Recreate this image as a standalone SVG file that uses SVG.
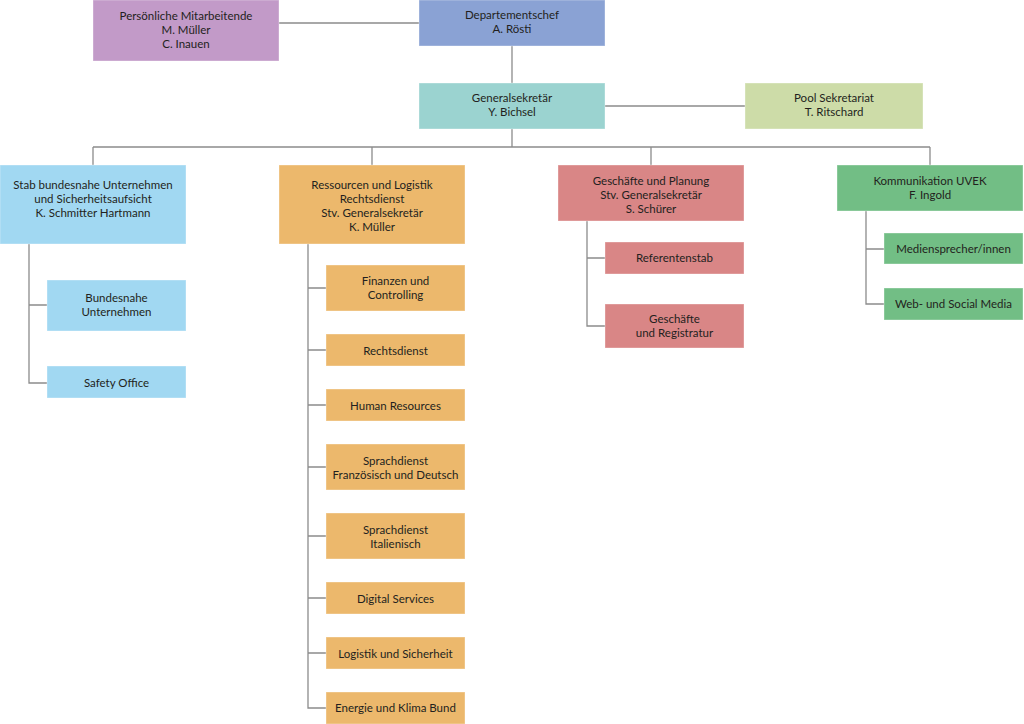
<svg xmlns="http://www.w3.org/2000/svg" width="1024" height="724" viewBox="0 0 1024 724">
<style>
text{font-family:Lato,"Open Sans","Liberation Sans",sans-serif;font-size:11.5px;fill:#231f20;text-anchor:middle}
.c{fill:none;stroke:#8c8c8c;stroke-width:1.3}
rect{stroke:#ffffff;stroke-opacity:0.35;stroke-width:1}
.pu{fill:#c29ac8}.db{fill:#8aa2d4}.te{fill:#9bd3d0}.po{fill:#cddca8}.bl{fill:#a1d8f2}.or{fill:#ecb86c}.rd{fill:#d98686}.gr{fill:#72be85}
</style>
<rect width="1024" height="724" fill="#ffffff" stroke="none"/>
<g id="connectors">
<path class="c" d="M279 23H419M512 46V83M605 106H745M512 129V147M93 147H930M93 147V165M372 147V165M651 147V165M930 147V165"/>
<path class="c" d="M29 244V383H47M29 305H47"/>
<path class="c" d="M308 244V708H326M308 288H326M308 350H326M308 405H326M308 467H326M308 536H326M308 598H326M308 653H326"/>
<path class="c" d="M587 221V326H605M587 258H605"/>
<path class="c" d="M866 211V304H884M866 249H884"/>
</g>
<g id="persoenliche"><rect class="pu" x="93" y="0" width="186" height="61"/><text x="186" y="20">Persönliche Mitarbeitende</text><text x="186" y="34">M. Müller</text><text x="186" y="48">C. Inauen</text></g>
<g id="departementschef"><rect class="db" x="419" y="0" width="186" height="46"/><text x="512" y="19">Departementschef</text><text x="512" y="33">A. Rösti</text></g>
<g id="generalsekretaer"><rect class="te" x="419" y="83" width="186" height="46"/><text x="512" y="102">Generalsekretär</text><text x="512" y="116">Y. Bichsel</text></g>
<g id="pool"><rect class="po" x="745" y="83" width="178" height="46"/><text x="834" y="102">Pool Sekretariat</text><text x="834" y="116">T. Ritschard</text></g>
<g id="stab"><rect class="bl" x="0" y="165" width="186" height="79"/><text x="93" y="189">Stab bundesnahe Unternehmen</text><text x="93" y="203">und Sicherheitsaufsicht</text><text x="93" y="217">K. Schmitter Hartmann</text></g>
<g id="bundesnahe"><rect class="bl" x="47" y="280" width="139" height="51"/><text x="116.5" y="302">Bundesnahe</text><text x="116.5" y="316">Unternehmen</text></g>
<g id="safety"><rect class="bl" x="47" y="366" width="139" height="32"/><text x="116.5" y="387">Safety Office</text></g>
<g id="ressourcen"><rect class="or" x="279" y="165" width="186" height="79"/><text x="372" y="189">Ressourcen und Logistik</text><text x="372" y="203">Rechtsdienst</text><text x="372" y="217">Stv. Generalsekretär</text><text x="372" y="231">K. Müller</text></g>
<g id="finanzen"><rect class="or" x="326" y="265" width="139" height="46"/><text x="395.5" y="285">Finanzen und</text><text x="395.5" y="299">Controlling</text></g>
<g id="rechtsdienst"><rect class="or" x="326" y="334" width="139" height="32"/><text x="395.5" y="355">Rechtsdienst</text></g>
<g id="hr"><rect class="or" x="326" y="389" width="139" height="32"/><text x="395.5" y="410">Human Resources</text></g>
<g id="sprach-fd"><rect class="or" x="326" y="444" width="139" height="46"/><text x="395.5" y="465">Sprachdienst</text><text x="395.5" y="479">Französisch und Deutsch</text></g>
<g id="sprach-it"><rect class="or" x="326" y="513" width="139" height="46"/><text x="395.5" y="534">Sprachdienst</text><text x="395.5" y="548">Italienisch</text></g>
<g id="digital"><rect class="or" x="326" y="582" width="139" height="32"/><text x="395.5" y="603">Digital Services</text></g>
<g id="logistik"><rect class="or" x="326" y="637" width="139" height="32"/><text x="395.5" y="658">Logistik und Sicherheit</text></g>
<g id="energie"><rect class="or" x="326" y="692" width="139" height="32"/><text x="395.5" y="712">Energie und Klima Bund</text></g>
<g id="geschaefte"><rect class="rd" x="558" y="165" width="186" height="56"/><text x="651" y="185">Geschäfte und Planung</text><text x="651" y="199">Stv. Generalsekretär</text><text x="651" y="213">S. Schürer</text></g>
<g id="referentenstab"><rect class="rd" x="605" y="242" width="139" height="32"/><text x="674.5" y="262">Referentenstab</text></g>
<g id="registratur"><rect class="rd" x="605" y="304" width="139" height="44"/><text x="674.5" y="323">Geschäfte</text><text x="674.5" y="337">und Registratur</text></g>
<g id="kommunikation"><rect class="gr" x="837" y="165" width="186" height="46"/><text x="930" y="185">Kommunikation UVEK</text><text x="930" y="199">F. Ingold</text></g>
<g id="medien"><rect class="gr" x="884" y="233" width="139" height="31"/><text x="953.5" y="253">Mediensprecher/innen</text></g>
<g id="web"><rect class="gr" x="884" y="288" width="139" height="32"/><text x="953.5" y="308">Web- und Social Media</text></g>
</svg>
